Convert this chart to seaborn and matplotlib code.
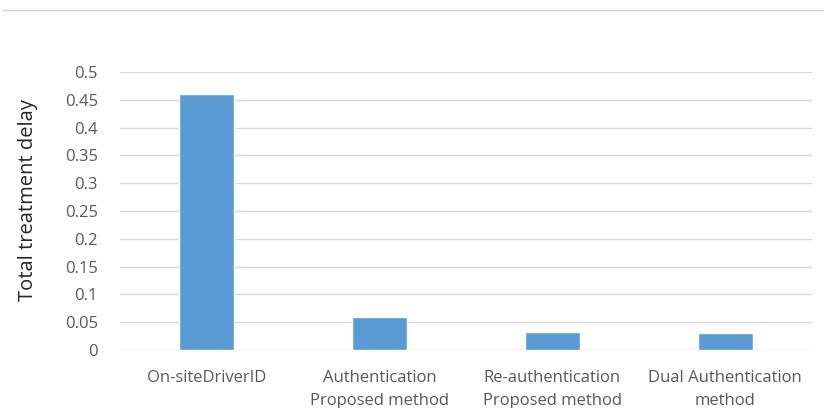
import matplotlib
matplotlib.use("Agg")
import matplotlib.pyplot as plt
import seaborn as sns
import pandas as pd
from matplotlib.lines import Line2D

categories = ["On-siteDriverID", "Authentication\nProposed method",
              "Re-authentication\nProposed method", "Dual Authentication\nmethod"]
delay = [0.46, 0.06, 0.032, 0.031]
yticks = [0, 0.05, 0.1, 0.15, 0.2, 0.25, 0.3, 0.35, 0.4, 0.45, 0.5]
ytick_labels = ["0", "0.05", "0.1", "0.15", "0.2", "0.25", "0.3", "0.35", "0.4", "0.45", "0.5"]

df = pd.DataFrame({"method": categories, "delay": delay})

sns.set_style("white")
plt.rcParams["font.family"] = ["Open Sans", "DejaVu Sans"]
txt = "#595959"

fig = plt.figure(figsize=(8.24, 4.08), dpi=100)
ax = fig.add_axes([0.1456, 0.142, 0.8394, 0.6815])

sns.barplot(data=df, x="method", y="delay", color="#5B9BD5", saturation=1,
            width=0.32, ax=ax, zorder=3)

ax.set_ylim(0, 0.5)
ax.set_xlim(-0.5, 3.5)
ax.set_yticks(yticks)
ax.set_yticklabels(ytick_labels)
ax.yaxis.grid(True, color="#d9d9d9", linewidth=1, zorder=0)
ax.set_axisbelow(True)
for s in ax.spines.values():
    s.set_visible(False)
ax.tick_params(axis="both", length=0, labelsize=12, colors=txt)
ax.tick_params(axis="y", pad=16)
ax.tick_params(axis="x", pad=14)
for lab in ax.get_xticklabels():
    lab.set_linespacing(1.6)
ax.set_xlabel("")
ax.set_ylabel("Total treatment delay", fontsize=14.5, color="#262626")
ax.yaxis.set_label_coords(-0.118, 0.54)

# thin frame line near the top of the image
fig.add_artist(Line2D([0.004, 1.0], [0.975, 0.975], color="#d0d0d0", linewidth=1))

fig.savefig("out.png", dpi=100)
